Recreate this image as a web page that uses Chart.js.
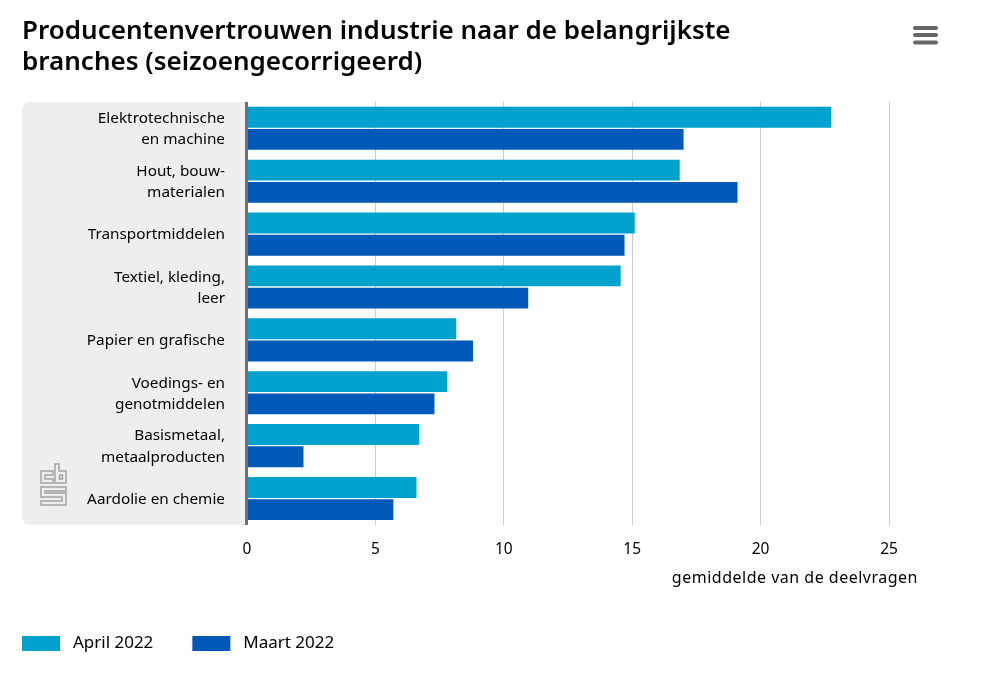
<!DOCTYPE html>
<html>
<head>
<meta charset="utf-8">
<style>
  html, body { margin: 0; padding: 0; background: #fff; }
  #wrap { width: 982px; height: 673px; }
</style>
<script src="https://cdn.jsdelivr.net/npm/chart.js@4"></script>
</head>
<body>
<div id="wrap"><canvas id="chart"></canvas></div>
<script>
const titleLines = ['Producentenvertrouwen industrie naar de belangrijkste', 'branches (seizoengecorrigeerd)'];
const categories = [
  ['Elektrotechnische', 'en machine'],
  ['Hout, bouw-', 'materialen'],
  'Transportmiddelen',
  ['Textiel, kleding,', 'leer'],
  'Papier en grafische',
  ['Voedings- en', 'genotmiddelen'],
  ['Basismetaal,', 'metaalproducten'],
  'Aardolie en chemie'
];
const april2022 = [22.75, 16.85, 15.1, 14.55, 8.15, 7.8, 6.7, 6.6];
const maart2022 = [17.0, 19.1, 14.7, 10.95, 8.8, 7.3, 2.2, 5.7];
const xTicks = [0, 5, 10, 15, 20, 25];
const xAxisName = 'gemiddelde van de deelvragen';

const FONT = '"Noto Sans"';
const LEGEND_GAP = 39;

// grey label panel, logo, menu icon and the axis name sit outside what the scales draw
const decorations = {
  id: 'decorations',
  afterLayout(chart) {
    // legend starts at the page margin, not one item gap further in
    chart.legend.left -= LEGEND_GAP;
  },
  beforeDraw(chart) {
    const ctx = chart.ctx;
    const a = chart.chartArea;
    ctx.save();
    ctx.fillStyle = '#eeeeee';
    ctx.beginPath();
    ctx.roundRect(22, a.top, a.left - 22, a.bottom - a.top, [8, 0, 0, 8]);
    ctx.fill();
    ctx.restore();
  },
  afterDraw(chart) {
    const ctx = chart.ctx;
    const a = chart.chartArea;
    ctx.save();
    // y axis line
    ctx.fillStyle = '#707070';
    ctx.fillRect(a.left - 2, a.top, 3, a.bottom - a.top);
    // menu icon
    ctx.strokeStyle = '#666666';
    ctx.lineWidth = 4;
    ctx.lineCap = 'round';
    [28, 35, 42.5].forEach(y => {
      ctx.beginPath();
      ctx.moveTo(915, y);
      ctx.lineTo(936, y);
      ctx.stroke();
    });
    // cbs logo, letters in outline
    ctx.strokeStyle = '#a4a4a4';
    ctx.lineWidth = 1.5;
    ctx.lineCap = 'butt';
    const outline = pts => {
      ctx.beginPath();
      pts.forEach((p, i) => i ? ctx.lineTo(p[0], p[1]) : ctx.moveTo(p[0], p[1]));
      ctx.closePath();
      ctx.stroke();
    };
    outline([[53, 471], [41, 471], [41, 483], [53, 483], [53, 479], [45, 479], [45, 475], [53, 475]]);
    outline([[55, 464], [59, 464], [59, 471], [66, 471], [66, 483], [55, 483]]);
    outline([[59.5, 475], [62.5, 475], [62.5, 479], [59.5, 479]]);
    outline([[66, 487], [41, 487], [41, 497], [62, 497], [62, 501], [41, 501], [41, 505], [66, 505], [66, 493], [45, 493], [45, 491], [66, 491]]);
    // axis name
    ctx.fillStyle = '#000000';
    ctx.font = '16px ' + FONT;
    ctx.letterSpacing = '0.5px';
    ctx.textAlign = 'right';
    ctx.textBaseline = 'middle';
    ctx.fillText(xAxisName, 918, 578);
    ctx.restore();
  }
};

new Chart(document.getElementById('chart'), {
  type: 'bar',
  data: {
    labels: categories,
    datasets: [
      { label: 'April 2022', data: april2022, backgroundColor: '#00a1cd', categoryPercentage: 0.84, barPercentage: 0.94 },
      { label: 'Maart 2022', data: maart2022, backgroundColor: '#0058b8', categoryPercentage: 0.84, barPercentage: 0.94 }
    ]
  },
  options: {
    indexAxis: 'y',
    responsive: true,
    maintainAspectRatio: false,
    animation: false,
    layout: { padding: { left: 22, right: 93, top: 0, bottom: 11 } },
    scales: {
      x: {
        min: 0,
        max: 25,
        afterBuildTicks(scale) { scale.ticks = xTicks.map(value => ({ value })); },
        grid: { color: '#cccccc', lineWidth: 1, drawTicks: false },
        border: { display: false },
        ticks: { color: '#000', font: { family: FONT, size: 15.5 }, padding: 15, maxRotation: 0 },
        afterFit(scale) { scale.height = 71; }
      },
      y: {
        grid: { display: false, drawTicks: false },
        border: { display: false },
        ticks: { color: '#000', font: { family: FONT, size: 15.3, lineHeight: 1.38 }, padding: 22, autoSkip: false, labelOffset: 1 },
        afterFit(scale) { scale.width = 225; }
      }
    },
    plugins: {
      title: {
        display: true,
        text: titleLines,
        align: 'start',
        color: '#000',
        font: { family: FONT, size: 26, weight: '600', lineHeight: 1.19 },
        padding: { top: 16, bottom: 24 }
      },
      legend: {
        position: 'bottom',
        align: 'start',
        labels: {
          boxWidth: 38,
          boxHeight: 15,
          color: '#000',
          font: { family: FONT, size: 17 },
          padding: LEGEND_GAP,
          generateLabels(chart) {
            return Chart.defaults.plugins.legend.labels.generateLabels(chart).map(item => ({ ...item, text: ' ' + item.text }));
          }
        }
      },
      tooltip: { enabled: false }
    }
  },
  plugins: [decorations]
});
</script>
</body>
</html>
